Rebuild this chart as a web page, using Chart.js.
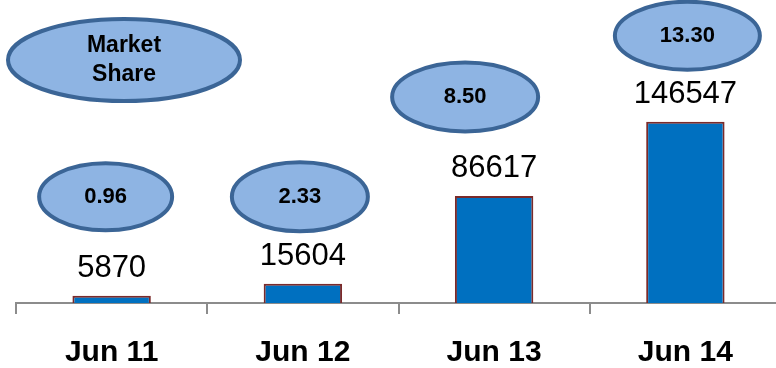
<!DOCTYPE html>
<html>
<head>
<meta charset="utf-8">
<script src="https://cdn.jsdelivr.net/npm/chart.js@4.4.1/dist/chart.umd.min.js"></script>
<style>
    html, body { margin: 0; padding: 0; background: #fff; overflow: hidden; }
    #wrap { width: 781px; height: 368px; }
</style>
</head>
<body>
<div id="wrap"><canvas id="shareChart"></canvas></div>
<script>
    const periods = ['Jun 11', 'Jun 12', 'Jun 13', 'Jun 14'];
    const units = [5870, 15604, 86617, 146547];
    const marketShare = ['0.96', '2.33', '8.50', '13.30'];
    const calloutTitle = ['Market', 'Share'];

    // where each share bubble sits relative to the top of its bar
    const bubbles = [
        { dx: -6, dy: -99, w: 133, h: 67 },
        { dx: -3, dy: -87, w: 136, h: 69 },
        { dx: -29, dy: -99, w: 146, h: 69 },
        { dx: 2, dy: -86, w: 145, h: 68 }
    ];

    const FONT = '"Liberation Sans", Arial, sans-serif';

    function drawBubble(ctx, cx, cy, w, h) {
        ctx.beginPath();
        ctx.ellipse(cx, cy, w / 2, h / 2, 0, 0, Math.PI * 2);
        ctx.fillStyle = '#8EB4E3';
        ctx.fill();
        ctx.lineWidth = 4;
        ctx.strokeStyle = '#3B6596';
        ctx.stroke();
    }

    const annotations = {
        id: 'annotations',
        afterDatasetsDraw(chart) {
            const ctx = chart.ctx;
            const bars = chart.getDatasetMeta(0).data;
            ctx.save();
            ctx.textAlign = 'center';

            // value over every bar
            ctx.fillStyle = '#000';
            ctx.font = '31px ' + FONT;
            ctx.textBaseline = 'alphabetic';
            bars.forEach((bar, i) => {
                ctx.fillText(String(units[i]), bar.x, bar.y - 19);
            });

            // market share bubbles
            bars.forEach((bar, i) => {
                const b = bubbles[i];
                const cx = bar.x + b.dx, cy = bar.y + b.dy;
                drawBubble(ctx, cx, cy, b.w, b.h);
                ctx.fillStyle = '#000';
                ctx.font = 'bold 22px ' + FONT;
                ctx.textBaseline = 'middle';
                ctx.fillText(marketShare[i], cx, cy);
            });

            // "Market Share" key bubble
            drawBubble(ctx, 124, 60, 232, 82);
            ctx.fillStyle = '#000';
            ctx.font = 'bold 23px ' + FONT;
            ctx.textBaseline = 'middle';
            ctx.fillText(calloutTitle[0], 124, 46);
            ctx.fillText(calloutTitle[1], 124, 75);
            ctx.restore();
        }
    };

    const ctx = document.getElementById('shareChart').getContext('2d');
    new Chart(ctx, {
        type: 'bar',
        data: {
            labels: periods,
            datasets: [{
                data: units,
                backgroundColor: '#0070C0',
                borderColor: '#7B2A2A',
                borderWidth: 2,
                categoryPercentage: 1,
                barPercentage: 0.41
            }]
        },
        options: {
            responsive: true,
            maintainAspectRatio: false,
            animation: false,
            layout: {
                padding: { left: 16, right: 0, top: 0, bottom: -24 }
            },
            plugins: {
                legend: { display: false },
                tooltip: { enabled: false }
            },
            scales: {
                y: {
                    display: false,
                    min: 0,
                    max: 245000
                },
                x: {
                    border: { color: '#8C8C8C', width: 2 },
                    grid: {
                        offset: true,
                        drawOnChartArea: false,
                        drawTicks: true,
                        tickLength: 11,
                        color: '#8C8C8C',
                        lineWidth: 2
                    },
                    ticks: {
                        color: '#000',
                        padding: 21,
                        font: { family: FONT, size: 30, weight: 'bold' }
                    }
                }
            }
        },
        plugins: [annotations]
    });
</script>
</body>
</html>
